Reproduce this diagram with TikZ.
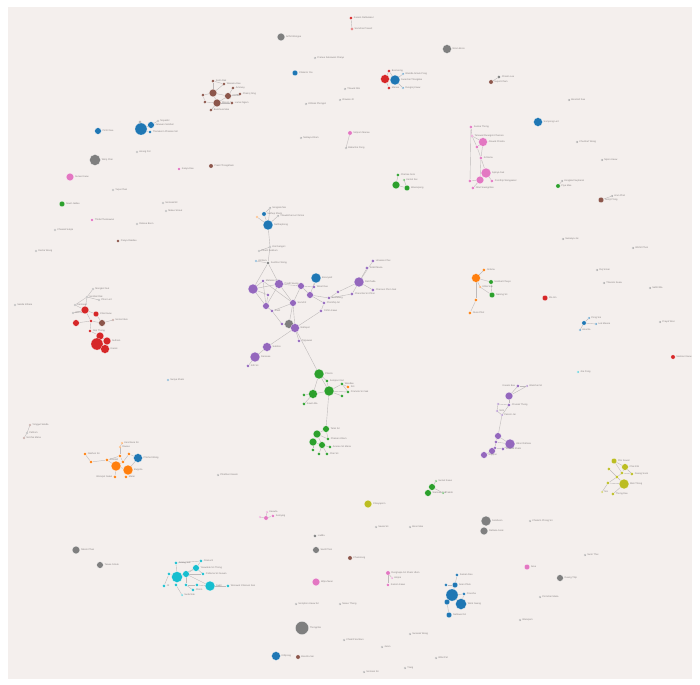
\documentclass[tikz,border=0pt]{standalone}
\usepackage{fontspec}
\setmainfont{Liberation Sans}
\pgfdeclarelayer{bg}
\pgfdeclarelayer{edges}
\pgfsetlayers{bg,edges,main}
\definecolor{bgc}{RGB}{244,239,237}
\definecolor{cb}{HTML}{1F77B4}
\definecolor{co}{HTML}{FF7F0E}
\definecolor{cg}{HTML}{2CA02C}
\definecolor{cr}{HTML}{D62728}
\definecolor{cp}{HTML}{9467BD}
\definecolor{cn}{HTML}{8C564B}
\definecolor{ck}{HTML}{E377C2}
\definecolor{cy}{HTML}{7F7F7F}
\definecolor{cl}{HTML}{BCBD22}
\definecolor{cc}{HTML}{17BECF}
\definecolor{lblc}{RGB}{135,130,130}
\definecolor{edgc}{RGB}{190,186,186}
\tikzset{
  v/.style={circle,inner sep=0pt,draw=white,line width=0.15pt},
  lbl/.style={font=\fontsize{2.4}{2.8}\selectfont,text=lblc,inner sep=0.4pt,anchor=west},
  lbll/.style={lbl,anchor=east},
  e/.style={draw=edgc,line width=0.4pt}
}
\newcommand\V[6]{\node[v,fill=#5,minimum size={2.2*#4pt}] (#1) at (#2,#3) {};\node[lbl] (#1-l) at ([xshift=0.6pt]#1.east) {#6};}
\newcommand\VL[6]{\node[v,fill=#5,minimum size={2.2*#4pt}] (#1) at (#2,#3) {};\node[lbll] (#1-l) at ([xshift=-0.6pt]#1.west) {#6};}
\newcommand\EE[1]{\begin{pgfonlayer}{edges}\foreach \a/\b in {#1} {\draw[e] (\a) -- (\b);}\end{pgfonlayer}}
\begin{document}
\begin{tikzpicture}[x=1pt,y=-1pt]
\useasboundingbox (0,0) rectangle (700,684);
\begin{pgfonlayer}{bg}
\fill[white] (0,0) rectangle (700,684);
\fill[bgc] (8,7) rectangle (692,679);
\end{pgfonlayer}
% ---------- top band
\V{t1}{351}{18}{1.5}{cr}{Kasem Rattanakul}
\V{t2}{352}{29}{1.2}{cr}{Somchai Prasert}
\EE{t1/t2}
\V{t4}{281}{37}{3.5}{cy}{Arthit Wongsa}
\V{t5}{447}{49}{4}{cy}{Niran Boon}
\V{t6}{315}{58}{1}{cy}{Pranee Suksawat Chaiyo}
\V{t7}{295}{73}{2.5}{cb}{Chalerm Yoo}
\V{r1}{385}{79}{4}{cr}{}
\V{r2}{395}{80}{4.5}{cb}{Surachai Thongdee}
\V{r3}{389}{71}{1.5}{cr}{Boonsong}
\V{r4}{389}{88}{1.5}{cr}{Manee}
\V{r5}{403}{74}{1}{cb}{Wanida Srisuk Pong}
\V{r6}{403}{88}{1}{cb}{Rungroj Kaew}
\EE{r1/r2,r1/r3,r1/r4,r2/r5,r2/r6,r2/r3}
\V{bp1}{491}{82}{2}{cn}{Supot Kham}
\V{bp2}{499}{77}{1.5}{cy}{Chanin Lee}
\EE{bp1/bp2}
\V{t8}{345}{89}{1}{cy}{Thawat Nim}
\V{t9}{306}{104}{1}{cy}{Kittisak Phongsri}
\V{t10}{340}{100}{1}{cy}{Orawan Jit}
% brown cluster
\V{w1}{213}{93}{3.5}{cn}{}
\V{w2}{217}{103}{3.5}{cn}{Manop Sri}
\V{w3}{228}{96}{3}{cn}{Kanda}
\V{w4}{203}{95}{1.5}{cn}{}
\V{w5}{213}{81}{1.5}{cn}{Sutin Rak}
\V{w6}{224}{84}{1.5}{cn}{Wasana Dee}
\V{w7}{233}{88}{1.5}{cn}{Amnuay}
\V{w8}{240}{94}{1.5}{cn}{Phairoj Sing}
\V{w9}{232}{103}{1.5}{cn}{Lamai Ngam}
\V{w10}{205}{102}{1.5}{cn}{}
\V{w11}{211}{110}{1.5}{cn}{Bunchuai Mee}
\EE{w1/w2,w1/w3,w2/w3,w1/w4,w1/w5,w1/w6,w3/w7,w3/w8,w2/w9,w2/w10,w2/w11,w4/w10,w5/w6}
% blue left
\V{bl1}{98}{131}{3}{cb}{Pichit Sae}
\V{bl2}{141}{129}{5.5}{cb}{}
\V{bl3}{151}{125}{3}{cb}{Jaruwan Sombat}
\V{bl4}{150}{132}{1.5}{cb}{Thanakorn Phaisan Siri}
\V{bl5}{140}{122}{1.2}{cy}{}
\V{bl6}{158}{121}{1}{cy}{Nopadol}
\EE{bl2/bl3,bl2/bl4,bl2/bl5,bl3/bl6}
% isolated left
\V{s1}{95}{160}{5}{cy}{Wiroj Chai}
\V{s2}{70}{177}{3.5}{ck}{Sunee Kaew}
\V{s3}{137}{152}{1}{cy}{Anong Pet}
\V{s4}{179}{169}{1.5}{ck}{Kanya Dee}
\V{s5}{211}{166}{2}{cn}{Prasit Thongkham}
\V{s6}{113}{190}{1}{cy}{Yupa Chan}
\V{s7}{62}{204}{2.5}{cg}{Suwit Jaidee}
\V{s8}{163}{203}{1}{cy}{Somsak Nil}
\V{s9}{166}{211}{1}{cy}{Malee Srisuk}
\V{s10}{92}{220}{1.5}{ck}{Thida Phonsawan}
\V{s11}{137}{224}{1}{cy}{Ratana Boon}
\V{s12}{55}{230}{1}{cy}{Chaiwat Sukjai}
\V{s13}{118}{241}{1.5}{cn}{Panya Rakdee}
\V{s14}{36}{251}{1}{cy}{Decha Wong}
\V{s15}{15}{305}{1}{cy}{Sakda Inthara}
% middle top
\V{m1}{301}{138}{1}{cy}{Nattaya Kham}
\V{m2}{350}{133}{2}{ck}{Siriporn Manee}
\V{m3}{346}{148}{1}{cy}{Ekkachai Pong}
\EE{m2/m3}
\V{gr1}{396}{185}{3.5}{cg}{}
\V{gr2}{407}{188}{2.5}{cg}{Weerapong}
\V{gr3}{398}{175}{1.5}{cg}{Chatree Som}
\V{gr4}{404}{180}{1}{cg}{Kamol Sai}
\EE{gr1/gr2,gr1/gr3,gr2/gr4}
% top right
\V{u1}{538}{122}{4}{cb}{Sompong Lert}
\V{pk1}{471}{127}{1.5}{ck}{Sunisa Thong}
\V{pk2}{483}{142}{4}{ck}{Jirawat Chanta}
\V{pk3}{477}{147}{1.5}{ck}{}
\V{pk4}{481}{158}{1.5}{ck}{Kritsana}
\V{pk5}{486}{173}{4.5}{ck}{Apinya Suk}
\V{pk6}{480}{180}{3.5}{ck}{}
\V{pk7}{470}{181}{1.5}{ck}{}
\V{pk8}{473}{188}{1.5}{ck}{Nirut Saengchan}
\V{pk9}{492}{181}{1.5}{ck}{Pornthip Wongsakul}
\V{pk10}{472}{136}{1.2}{ck}{Tanawat Ruangsri Charoen}
\EE{pk1/pk10,pk10/pk2,pk2/pk3,pk2/pk4,pk3/pk4,pk10/pk3,pk4/pk5,pk4/pk6,pk5/pk6,pk6/pk7,pk6/pk8,pk5/pk9,pk1/pk7}
\V{u2}{569}{100}{1}{cy}{Boonlert Sae}
\V{u3}{577}{142}{1}{cy}{Chuchart Wong}
\V{u4}{602}{160}{1}{cy}{Nipon Kaew}
\V{u6}{562}{181}{1}{cy}{Kongkiat Supharat}
\V{u5}{558}{186}{2}{cg}{Piya Mee}
\V{u7}{601}{200}{2.5}{cn}{Somjit Tong}
\V{u8}{612}{196}{1}{cy}{Arun Phet}
\EE{u7/u8,u5/u6}
\V{u9}{563}{239}{1}{cy}{Sukanya Jai}
\V{u10}{633}{248}{1}{cy}{Wichit Phon}
\V{u11}{597}{270}{1}{cy}{Ruj Srisai}
\V{u12}{604}{283}{1}{cy}{Thanom Keaw}
\V{u13}{650}{288}{1}{cy}{Sathit Ma}
\V{u14}{545}{298}{2.5}{cr}{Kla Inn}
\V{or1}{476}{278}{4}{co}{}
\V{or2}{484}{270}{1.5}{co}{Jintana}
\V{or3}{491}{282}{2}{cg}{Sombat Chaiyo}
\V{or4}{492}{295}{2.5}{cg}{Narong Sri}
\V{or5}{476}{300}{1.5}{co}{}
\V{or6}{470}{313}{1.5}{co}{Nuan Phet}
\V{or7}{480}{287}{1}{co}{Uthai Sak}
\EE{or1/or2,or1/or3,or1/or7,or7/or4,or1/or5,or5/or6,or3/or4}
\V{rb1}{584}{323}{2}{cb}{}
\V{rb2}{589}{318}{1}{cb}{Pong Sai}
\V{rb3}{596}{324}{1}{cb}{Lek Meena}
\V{rb4}{580}{330}{1}{cb}{Anucha}
\EE{rb1/rb2,rb1/rb3,rb1/rb4}
\V{u16}{660}{322}{1}{cy}{Prayut Won}
\V{u17}{673}{357}{2}{cr}{Samran Kaew}
\V{u18}{578}{372}{1}{cc}{Jira Pong}
% right purple
\V{q1}{509}{396}{3.5}{cp}{}
\VL{q2}{518}{386}{1.5}{cp}{Kasem Bua}
\V{q14}{527}{386}{1}{cp}{Wanchai Sri}
\V{q3}{509}{405}{1.5}{cp}{Chusak Thong}
\V{q4}{498}{404}{1}{cp}{}
\V{q5}{497}{411}{1}{cp}{Sirin}
\V{q6}{502}{415}{1}{cp}{Pakorn Jai}
\V{q7}{498}{436}{3}{cp}{}
\V{q8}{510}{444}{4.5}{cp}{Ubon Rattana}
\V{q9}{496}{442}{1.5}{cp}{}
\V{q10}{495}{448}{1.5}{cp}{}
\V{q11}{503}{449}{1.5}{cp}{Somrak Kham}
\V{q12}{492}{451}{3}{cp}{}
\V{q13}{484}{455}{3}{cp}{Noppon}
\EE{q1/q2,q2/q14,q1/q14,q1/q3,q3/q4,q4/q5,q5/q6,q3/q6,q6/q7,q7/q8,q7/q9,q8/q9,q9/q10,q10/q11,q8/q11,q10/q12,q12/q13}
% olive
\V{ol1}{614}{461}{2.5}{cl}{Pim Sawat}
\V{ol3}{625}{467}{3}{cl}{Chai Klin}
\V{ol4}{609}{469}{1.5}{cl}{}
\V{ol5}{622}{473}{1.5}{cl}{}
\V{ol7}{632}{474}{1.5}{cl}{Daeng Sook}
\V{ol8}{617}{477}{1.5}{cl}{}
\V{ol2}{624}{484}{4.5}{cl}{Mali Thong}
\V{ol6}{613}{494}{1.5}{cl}{Thong Dee}
\V{ol10}{608}{483}{1.5}{cl}{}
\V{ol9}{602}{492}{1}{cl}{Noi}
\EE{ol1/ol5,ol3/ol5,ol4/ol8,ol5/ol8,ol8/ol2,ol2/ol6,ol7/ol3,ol5/ol7,ol8/ol10,ol10/ol9,ol2/ol10,ol1/ol3}
% lower middle / right
\V{x1}{368}{504}{3.5}{cl}{Chaiyaporn}
\V{gp1}{432}{487}{3}{cg}{}
\V{gp2}{428}{493}{3}{cg}{Wannee Sak}
\V{gp3}{436}{481}{1}{cg}{Sumet Kaew}
\V{gp4}{443}{493}{1}{cg}{Prakob}
\EE{gp1/gp2,gp1/gp3,gp1/gp4}
\V{gy1}{486}{521}{4.5}{cy}{Somboon}
\V{gy2}{484}{531}{3.5}{cy}{Rattana Sook}
\V{x2}{530}{521}{1}{cy}{Chalerm Phong Sri}
\V{x3}{585}{555}{1}{cy}{Surin Thai}
\V{x4}{560}{578}{3}{cy}{Duang Thip}
\V{x5}{527}{567}{2.5}{ck}{Aree}
\V{x6}{540}{597}{1}{cy}{Pornchai Mana}
\V{x7}{76}{550}{3.5}{cy}{Nikom Phan}
\V{x8}{100}{565}{3}{cy}{Tawee Srisuk}
% cyan
\V{cy1}{177}{577}{5}{cc}{}
\V{cy2}{210}{586}{4.5}{cc}{Sukit}
\V{cy3}{186}{574}{3}{cc}{}
\V{cy4}{196}{568}{3}{cc}{Yaowalak Sri Thong}
\V{cy5}{176}{563}{1.5}{cc}{Kriang Sak}
\V{cy6}{201}{561}{1.5}{cc}{Oranuch}
\V{cy7}{203}{574}{1.5}{cc}{Pattama Sri Suwan}
\V{cy8}{169}{574}{1.5}{cc}{}
\V{cy9}{164}{586}{1.5}{cc}{Jit}
\V{cy10}{176}{585}{1.5}{cc}{}
\V{cy11}{186}{585}{1.5}{cc}{}
\V{cy12}{193}{590}{1.5}{cc}{Chom}
\V{cy13}{197}{585}{1.5}{cc}{}
\V{cy14}{228}{586}{1.5}{cc}{Worawut Charoen Sak}
\V{cy15}{182}{595}{1}{cc}{Suda Nak}
\EE{cy1/cy3,cy3/cy4,cy1/cy5,cy4/cy6,cy4/cy7,cy1/cy8,cy8/cy9,cy1/cy10,cy3/cy11,cy11/cy12,cy11/cy13,cy13/cy2,cy2/cy14,cy1/cy4,cy3/cy7,cy10/cy15,cy5/cy6,cy3/cy2}
\V{ps1}{266}{518}{2}{ck}{}
\V{ps2}{273}{516}{1.5}{ck}{Somying}
\V{ps3}{267}{512}{1}{ck}{Kaewta}
\V{ps4}{260}{517}{1}{ck}{}
\EE{ps1/ps2,ps1/ps3,ps1/ps4}
\V{x9}{218}{475}{1}{cy}{Phaithun Kasem}
\V{x10}{315}{536}{1.5}{cy}{Ladda}
\V{x11}{316}{550}{3}{cy}{Sanit Phon}
\V{x12}{350}{558}{2}{cn}{Chamnong}
\V{x13}{316}{582}{3.5}{ck}{Wipa Nuan}
\V{pp1}{388}{573}{2}{ck}{Rungnapa Sri Kham Ubon}
\V{pp2}{388}{585}{1.5}{ck}{Kamon Kaew}
\V{pp3}{392}{578}{1}{ck}{Ampai}
\EE{pp1/pp2,pp1/pp3}
\V{x14}{376}{527}{1}{cy}{Sawai Sri}
\V{x15}{410}{527}{1}{cy}{Boon Mee}
\V{bb1}{452}{595}{5.5}{cb}{}
\V{bb2}{461}{604}{5}{cb}{Wirat Saeng}
\V{bb3}{447}{602}{2.5}{cb}{}
\V{bb4}{455}{585}{2.5}{cb}{Anan Phuk}
\V{bb5}{446}{585}{1.5}{cb}{}
\V{bb6}{457}{575}{1.5}{cb}{Saman Dee}
\V{bb7}{464}{594}{1.5}{cb}{Preecha}
\V{bb8}{449}{615}{2.5}{cb}{Nattawut Sri}
\EE{bb1/bb2,bb1/bb3,bb1/bb4,bb1/bb7,bb4/bb5,bb4/bb6,bb3/bb8,bb2/bb7}
\V{x16}{302}{628}{6}{cy}{Thongchai}
\V{x17}{276}{656}{4}{cb}{Kittipong}
\V{x18}{298}{657}{2}{cn}{Bancha Sai}
\V{x20}{296}{604}{1}{cy}{Somphon Kaew Sri}
\V{x21}{340}{604}{1}{cy}{Naree Thong}
\V{x22}{344}{640}{1}{cy}{Chakrit Sombun}
\V{x23}{382}{647}{1}{cy}{Jaran}
\V{x24}{410}{634}{1}{cy}{Surasak Wong}
\V{x25}{436}{658}{1}{cy}{Wilai Pet}
\V{x26}{364}{672}{1}{cy}{Somnuk Sri}
\V{x27}{405}{668}{1}{cy}{Tiang}
\V{x28}{520}{620}{1}{cy}{Waraporn}
\V{x19}{168}{380}{1}{cb}{Suriya Kham}
% red left
\V{rd12}{93}{289}{1}{cy}{Mongkol Suk}
\V{rd13}{87}{297}{1}{cy}{Sombat Rak}
\V{rd14}{99}{300}{1}{cy}{Phon Lert}
\V{rd15}{75}{305}{1}{cy}{Kamnoet}
\V{rd16}{73}{313}{1}{cy}{Wut Sri}
\V{rd1}{85}{310}{3.5}{cr}{}
\V{rd2}{96}{314}{2.5}{cr}{Chai Kaew}
\V{rd3}{76}{323}{3}{cr}{}
\V{rd4}{91}{321}{1.5}{cr}{}
\V{rd5}{102}{323}{3}{cn}{}
\V{rd6}{113}{320}{1}{cn}{Somsri Bun}
\V{rd7}{90}{331}{1.5}{cr}{Nop Thong}
\V{rd8}{100}{336}{3.5}{cr}{}
\V{rd9}{107}{341}{3.5}{cr}{Sutham}
\V{rd10}{97}{344}{5.5}{cr}{}
\V{rd11}{105}{349}{4}{cr}{Kanok}
\EE{rd12/rd13,rd13/rd14,rd13/rd15,rd13/rd1,rd15/rd1,rd1/rd16,rd1/rd2,rd1/rd4,rd4/rd5,rd4/rd7,rd7/rd8,rd8/rd10,rd8/rd9,rd10/rd11,rd9/rd11,rd5/rd6,rd2/rd5,rd3/rd4}
\V{lc1}{30}{425}{1}{cn}{Yongyut Sakda}
\V{lc2}{27}{433}{1}{cy}{Pathom}
\V{lc3}{24}{438}{1}{cn}{Sirichai Mana}
\EE{lc1/lc2,lc2/lc3}
% orange left
\V{og9}{122}{443}{1}{co}{Kanchana Sri}
\V{og10}{120}{447}{1}{co}{Rawee}
\V{og4}{129}{454}{1.5}{co}{}
\V{og5}{120}{456}{1.5}{co}{}
\V{og3}{138}{458}{4}{cb}{Phichet Wong}
\V{og6}{107}{460}{1.5}{co}{Somkid}
\V{og7}{91}{462}{1.5}{co}{}
\V{og13}{85}{454}{1.5}{co}{Nakhon Sri}
\V{og8}{123}{462}{1.5}{co}{}
\V{og1}{116}{466}{4.5}{co}{}
\V{og2}{128}{470}{4.5}{co}{Buppha}
\VL{og11}{115}{477}{1.5}{co}{Worapot Sakul}
\V{og12}{126}{477}{1.5}{co}{Malai}
\EE{og1/og2,og1/og8,og8/og4,og4/og3,og5/og8,og6/og1,og7/og6,og13/og7,og9/og10,og10/og5,og1/og11,og2/og12,og2/og3,og6/og5}
% central blue + purple
\V{b1}{268}{225}{4.5}{cb}{Natthaphong}
\V{b2}{264}{214}{2}{cb}{Suthep Kham}
\V{b3}{270}{208}{1}{cy}{Songsak Nai}
\V{o1}{257}{217}{1}{co}{}
\V{b4}{278}{216}{1}{cy}{Thawatchai Lert Srisai}
\V{g1}{270}{247}{1}{cy}{Kiat Sangsri}
\V{g2}{259}{251}{1}{cy}{Phanit Sukhum}
\V{g3}{256}{261}{1}{cb}{Atchara}
\V{g4}{268}{263}{1.5}{cy}{Sunthon Wong}
\V{p1}{253}{289}{4.5}{cp}{}
\V{p13}{263}{281}{1.5}{cp}{Maliwan Sri}
\V{p2}{279}{284}{4}{cp}{Pradit Saeng}
\V{p14}{268}{295}{1.5}{cp}{}
\V{p3}{301}{286}{3}{cp}{}
\V{p5}{314}{287}{1.5}{cp}{Wiset Dee}
\V{B}{316}{278}{4.5}{cb}{Boonyarit}
\V{p4}{310}{295}{3}{cp}{}
\V{p6}{329}{298}{1.5}{cp}{Somwang}
\V{p12}{338}{292}{1.5}{cp}{}
\V{p11}{352}{294}{1.5}{cp}{Chanchai Sri Phon}
\V{p7}{359}{282}{4.5}{cp}{Ratchada}
\V{p8}{367}{268}{1.5}{cp}{Sirikit Mana}
\V{p9}{373}{261}{1.5}{cp}{Uraiwan Chai}
\V{p10}{373}{290}{1.5}{cp}{Charoen Phon Sak}
\V{p15}{266}{306}{3}{cp}{}
\V{p16}{272}{311}{1.5}{cp}{Kanit}
\V{p17}{293}{303}{3}{cp}{Somchit}
\V{p18}{324}{303}{1.5}{cp}{Phonthip Sri}
\V{p19}{321}{311}{1.5}{cp}{Yothin Kaew}
\V{p22}{282}{324}{1.5}{cp}{}
\V{p21}{289}{324}{4}{cy}{}
\V{p20}{295}{328}{4}{cp}{Nattapol}
\V{p27}{299}{341}{1.5}{cp}{Tippawan}
\V{p23}{267}{347}{4}{cp}{Sukhon}
\V{p24}{255}{357}{4.5}{cp}{Daranee}
\V{p26}{248}{366}{1.5}{cp}{Kitti Sri}
\EE{b1/b2,b1/b3,b1/o1,b1/b4,b2/b3,b1/g1,g1/g2,g1/g4,g4/g3,g4/p1,g4/p2,p1/p13,p1/p2,p1/p14,p2/p3,p2/p15,p13/p17,p14/p15,p15/p16,p16/p17,p17/p20,p17/p21,p2/p17,p3/p5,p3/p4,p4/B,p5/B,p4/p6,p6/p12,p12/p7,p7/p8,p7/p9,p7/p10,p7/p11,p11/p6,p4/p18,p18/p19,p19/p20,p20/p21,p21/p22,p22/p16,p20/p23,p23/p24,p24/p26,p20/p27,p13/p15,p1/p15,p3/p17}
% central green
\V{G1}{319}{374}{4.5}{cg}{Phairin}
\V{G2}{327}{381}{1.5}{cg}{Sompon Kiat}
\V{G3}{313}{394}{4}{cg}{}
\V{G4}{329}{391}{4.5}{cg}{}
\V{G5}{342}{384}{1.5}{cg}{Wandee}
\V{G6}{348}{392}{1.5}{cg}{Pramote Sri Sak}
\V{G7}{342}{396}{1.5}{cg}{}
\V{G8}{304}{395}{1.5}{cg}{}
\V{G9}{304}{404}{1.5}{cg}{Kawin Ma}
\V{GO}{348}{387}{1.5}{co}{Siri}
\V{H1}{326}{429}{3}{cg}{Tanin Sri}
\V{H2}{317}{434}{3.5}{cg}{}
\V{H3}{313}{442}{3.5}{cg}{}
\V{H4}{322}{445}{3}{cg}{}
\V{H5}{328}{439}{1.5}{cg}{Phaisan Kham}
\V{H9}{330}{447}{1.5}{cg}{Arunee Sri Mana}
\V{H6}{313}{450}{1.5}{cg}{}
\V{H7}{319}{454}{1.5}{cg}{}
\V{H8}{327}{454}{1.5}{cg}{Chai Sri}
\EE{p20/G1,G1/G2,G1/G3,G1/G4,G2/G4,G4/G5,G4/G6,G4/G7,G5/G6,G3/G8,G3/G9,G3/G4,G5/GO,G4/H1,H1/H2,H1/H5,H2/H3,H2/H4,H3/H4,H4/H9,H3/H6,H4/H7,H4/H8,H2/H5}
\end{tikzpicture}
\end{document}
